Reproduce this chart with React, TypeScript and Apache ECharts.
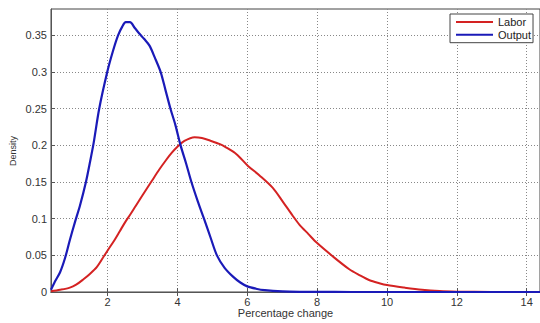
import React, { useEffect, useRef } from "react";
import * as echarts from "echarts";

const outputX = [0.38, 0.49, 0.64, 0.78, 0.92, 1.07, 1.21, 1.38, 1.5, 1.6, 1.76, 1.99, 2.15, 2.3, 2.42, 2.52, 2.64, 2.78, 2.9, 3.05, 3.2, 3.35, 3.52, 3.66, 3.8, 3.94, 4.09, 4.25, 4.4, 4.58, 4.76, 4.95, 5.13, 5.35, 5.59, 5.8, 6.0, 6.25, 6.5, 7, 7.5, 8.5, 9.5, 14.38];
const outputY = [0.003, 0.014, 0.027, 0.046, 0.071, 0.096, 0.118, 0.15, 0.178, 0.203, 0.25, 0.3, 0.328, 0.35, 0.362, 0.368, 0.368, 0.36, 0.353, 0.345, 0.336, 0.32, 0.3, 0.275, 0.25, 0.228, 0.2, 0.175, 0.15, 0.124, 0.1, 0.074, 0.05, 0.033, 0.021, 0.013, 0.0077, 0.0045, 0.0025, 0.0008, 0.0003, 0.0001, 0, 0];

const laborX = [0.38, 0.64, 0.92, 1.1, 1.3, 1.5, 1.69, 1.87, 2.02, 2.2, 2.35, 2.5, 2.64, 2.8, 3.0, 3.26, 3.48, 3.66, 3.84, 4.0, 4.2, 4.49, 4.7, 4.93, 5.2, 5.4, 5.69, 6.02, 6.35, 6.73, 7.02, 7.3, 7.49, 7.75, 8.0, 8.45, 8.92, 9.21, 9.5, 9.78, 10, 10.5, 11, 11.5, 12, 13, 14.38];
const laborY = [0.001, 0.003, 0.006, 0.01, 0.017, 0.025, 0.034, 0.047, 0.058, 0.071, 0.083, 0.095, 0.105, 0.117, 0.132, 0.151, 0.167, 0.179, 0.19, 0.198, 0.206, 0.211, 0.21, 0.2066, 0.202, 0.197, 0.188, 0.172, 0.159, 0.142, 0.123, 0.104, 0.092, 0.079, 0.0667, 0.0485, 0.031, 0.023, 0.016, 0.012, 0.0095, 0.006, 0.003, 0.0012, 0.0005, 0.0001, 0];

const xTicks = [2, 4, 6, 8, 10, 12, 14];
const yTicks = [0, 0.05, 0.1, 0.15, 0.2, 0.25, 0.3, 0.35];

const seriesNames = ["Labor", "Output"];
const xTitle = "Percentage change";
const yTitle = "Density";

const FONT = "Liberation Sans, Arial, sans-serif";

export default function App() {
  const ref = useRef<HTMLDivElement>(null);
  useEffect(() => {
    if (!ref.current) return;
    const chart = echarts.init(ref.current, undefined, { renderer: "svg" });
    const labor = laborX.map((x, i) => [x, laborY[i]]);
    const output = outputX.map((x, i) => [x, outputY[i]]);
    const splitStyle = { show: true, lineStyle: { color: "#888", type: [1, 2] as any, width: 1 } };
    chart.setOption({
      animation: false,
      backgroundColor: "#ffffff",
      textStyle: { fontFamily: FONT },
      grid: { left: 51, top: 9, right: 0, bottom: 31, show: true, borderColor: "#444", borderWidth: 1, backgroundColor: "#fff" },
      legend: {
        orient: "vertical",
        left: 450,
        top: 14,
        padding: [2, 2, 2, 6],
        itemGap: 0.7,
        itemWidth: 37,
        itemHeight: 2,
        icon: "rect",
        backgroundColor: "#fff",
        borderColor: "#444",
        borderWidth: 1,
        borderRadius: 0,
        textStyle: { fontSize: 11, color: "#222", fontFamily: FONT, lineHeight: 12, padding: [0, 0, 0, 0] },
        data: seriesNames,
      },
      xAxis: [
        {
          type: "value",
          min: 0.38,
          max: 14.38,
          axisLine: { show: true, onZero: false, lineStyle: { color: "#555" } },
          axisTick: { show: true, inside: true, length: 4, customValues: xTicks, lineStyle: { color: "#555" } },
          axisLabel: { customValues: xTicks, fontSize: 11, color: "#333", margin: 4, fontFamily: FONT },
          splitLine: splitStyle,
        },
        {
          type: "value",
          position: "top",
          min: 0.38,
          max: 14.38,
          axisLine: { show: true, lineStyle: { color: "#555" } },
          axisTick: { show: true, inside: true, length: 4, customValues: xTicks, lineStyle: { color: "#555" } },
          axisLabel: { show: false },
          splitLine: { show: false },
        },
      ],
      yAxis: {
        type: "value",
        min: 0,
        max: 0.386,
        axisLine: { show: true, lineStyle: { color: "#555" } },
        axisTick: { show: true, inside: true, length: 4, customValues: yTicks, lineStyle: { color: "#555" } },
        axisLabel: {
          customValues: yTicks,
          fontSize: 11,
          color: "#333",
          margin: 4,
          fontFamily: FONT,
          formatter: (v: number) => String(+v.toFixed(2)),
        },
        splitLine: splitStyle,
      },
      graphic: [
        {
          type: "text",
          x: 285.5,
          y: 313,
          style: { text: xTitle, fontSize: 11, fill: "#333", fontFamily: FONT, textAlign: "center", textVerticalAlign: "middle" },
        },
        {
          type: "text",
          x: 13,
          y: 151,
          rotation: Math.PI / 2,
          style: { text: yTitle, fontSize: 9, fill: "#333", fontFamily: FONT, textAlign: "center", textVerticalAlign: "middle" },
        },
      ],
      series: [
        {
          name: "Labor",
          type: "line",
          xAxisIndex: 0,
          data: labor,
          showSymbol: false,
          symbol: "none",
          smooth: 0.3,
          color: "#d42222",
          lineStyle: { width: 2, color: "#d42222" },
          z: 3,
        },
        {
          name: "Output",
          type: "line",
          xAxisIndex: 0,
          data: output,
          showSymbol: false,
          symbol: "none",
          smooth: 0.3,
          color: "#1a1ab8",
          lineStyle: { width: 2.2, color: "#1a1ab8" },
          z: 4,
        },
      ],
    });
    return () => chart.dispose();
  }, []);
  return <div ref={ref} style={{ position: "fixed", left: 0, top: 0, width: 540, height: 323 }} />;
}
